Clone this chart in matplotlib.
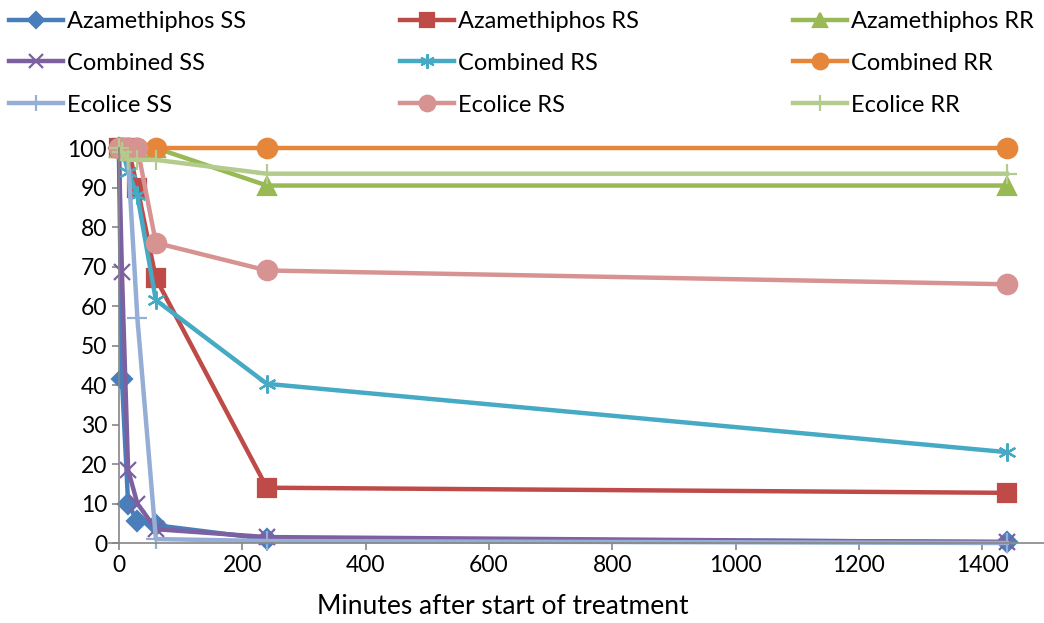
import matplotlib.pyplot as plt

plt.rcParams['font.family'] = ['Lato', 'DejaVu Sans']

# minutes after start of treatment
minutes = [0, 5, 15, 30, 60, 240, 1440]

aza_ss = [100, 41.5, 10, 5.5, 4.5, 1.0, 0.3]
aza_rs = [100, 100, 100, 90, 67, 14, 12.7]
aza_rr = [100, 100, 100, 100, 100, 90.5, 90.5]
comb_ss = [100, 68.5, 18.5, 10, 3.5, 1.5, 0.2]
comb_rs = [100, 100, 94, 88, 61.5, 40.3, 23]
comb_rr = [100, 100, 100, 100, 100, 100, 100]
eco_ss = [100, 100, 97, 57, 1, 0.5, 0]
eco_rs = [100, 100, 100, 100, 76, 69, 65.5]
eco_rr = [100, 99, 97, 97, 97, 93.5, 93.5]

labels = ['Azamethiphos SS', 'Azamethiphos RS', 'Azamethiphos RR',
          'Combined SS', 'Combined RS', 'Combined RR',
          'Ecolice SS', 'Ecolice RS', 'Ecolice RR']
series = [aza_ss, aza_rs, aza_rr, comb_ss, comb_rs, comb_rr, eco_ss, eco_rs, eco_rr]
colors = ['#4A7EBB', '#BE4B48', '#98B954', '#7D60A0', '#46AAC5', '#E5863A',
          '#95AED6', '#D69392', '#B3CC8D']
markers = ['D', 's', '^', 'x', (6, 2, 0), 'o', '+', 'o', '+']
msizes = [10, 13, 13, 12, 13, 14, 14, 14, 14]

fig = plt.figure(figsize=(10.44, 6.23), dpi=100)
ax = fig.add_axes([0.1044, 0.1284, 0.8956, 0.634])

handles = []
for y, lab, c, m, ms in zip(series, labels, colors, markers, msizes):
    h, = ax.plot(minutes, y, color=c, lw=3.2, marker=m, markersize=ms,
                 markeredgewidth=1.6, markerfacecolor=c, markeredgecolor=c,
                 label=lab, clip_on=False)
    handles.append(h)

ax.set_xlim(-16, 1500)
ax.set_ylim(0, 100)
ax.set_xticks(range(0, 1401, 200))
ax.set_yticks(range(0, 101, 10))
ax.spines['top'].set_visible(False)
ax.spines['right'].set_visible(False)
ax.spines['left'].set_position(('data', 0))
for s in ['left', 'bottom']:
    ax.spines[s].set_color('#868686')
    ax.spines[s].set_linewidth(1.2)
ax.tick_params(colors='#868686', labelcolor='black', labelsize=16.5, length=5, width=1.2)
ax.set_xlabel('Minutes after start of treatment', fontsize=19)
ax.xaxis.set_label_coords(0.421, -0.13)

order = [0, 3, 6, 1, 4, 7, 2, 5, 8]
fig.legend([handles[i] for i in order], [labels[i] for i in order],
           ncol=3, loc='upper left', bbox_to_anchor=(0.004, 0.99), frameon=False,
           fontsize=17, handlelength=2.3, handletextpad=0.17, columnspacing=6.5,
           labelspacing=0.88, markerscale=0.8, borderpad=0.2, borderaxespad=0)

plt.savefig('out.png')
